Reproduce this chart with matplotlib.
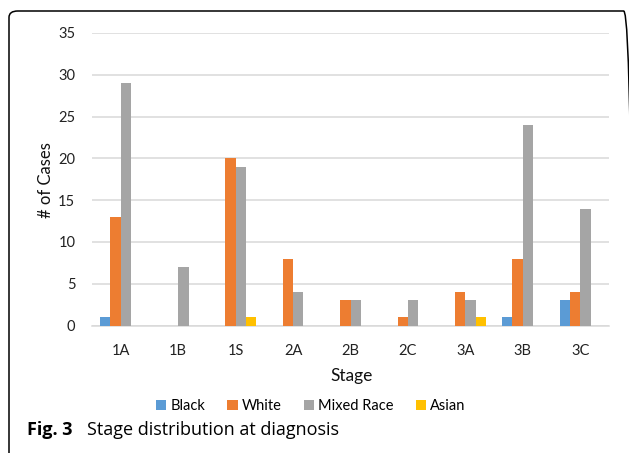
import matplotlib
matplotlib.use("Agg")
import matplotlib.pyplot as plt
from matplotlib.patches import FancyBboxPatch
import numpy as np

# Cases per stage at diagnosis, split by race
stages = ["1A", "1B", "1S", "2A", "2B", "2C", "3A", "3B", "3C"]
black = [1, 0, 0, 0, 0, 0, 0, 1, 3]
white = [13, 0, 20, 8, 3, 1, 4, 8, 4]
mixed_race = [29, 7, 19, 4, 3, 3, 3, 24, 14]
asian = [0, 0, 1, 0, 0, 0, 1, 0, 0]

series = [
    ("Black", black, "#5B9BD5"),
    ("White", white, "#ED7D31"),
    ("Mixed Race", mixed_race, "#A5A5A5"),
    ("Asian", asian, "#FFC000"),
]

W, H = 629, 453
fig = plt.figure(figsize=(W / 100, H / 100), dpi=100)
chart_font = "Lato"
caption_font = "Open Sans"

ax = fig.add_axes([92 / W, (H - 325.5) / H, 517 / W, (325.5 - 33) / H])

x = np.arange(len(stages))
bw = 0.18
for k, (name, vals, col) in enumerate(series):
    ax.bar(x + (k - 1.5) * bw, vals, width=bw, color=col, label=name,
           linewidth=0, zorder=3)

ax.set_xlim(-0.5, len(stages) - 0.5)
ax.set_ylim(0, 35)
ax.set_yticks(range(0, 36, 5))
ax.set_xticks(x)
ax.set_xticklabels(stages)
ax.yaxis.grid(True, color="#D9D9D9", linewidth=1.1, zorder=0)
ax.set_axisbelow(True)
for s in ("top", "right", "left"):
    ax.spines[s].set_visible(False)
ax.spines["bottom"].set_color("#D9D9D9")
ax.spines["bottom"].set_linewidth(1.1)
ax.tick_params(axis="both", length=0, labelsize=10.5, colors="#222222")
ax.tick_params(axis="y", pad=12)
ax.tick_params(axis="x", pad=13)
for lbl in ax.get_xticklabels() + ax.get_yticklabels():
    lbl.set_fontfamily(chart_font)

fig.text(46 / W, (H - 180) / H, "# of Cases", rotation=90, ha="center",
         va="center", fontsize=12, family=chart_font, color="#111111")
fig.text(352 / W, (H - 376) / H, "Stage", ha="center", va="center",
         fontsize=12.5, family=chart_font, color="#111111")

handles, labels = ax.get_legend_handles_labels()
fig.legend(handles, labels, loc="center", bbox_to_anchor=(311 / W, (H - 406) / H),
           ncol=4, frameon=False, handlelength=0.7, handleheight=0.7,
           handletextpad=0.3, columnspacing=1.5,
           prop={"family": chart_font, "size": 10.5})

# caption below the chart
fig.text(27 / W, (H - 435) / H, "Fig. 3", fontsize=13, fontweight="bold",
         family=caption_font, ha="left", va="baseline")
fig.text(87 / W, (H - 435) / H, "Stage distribution at diagnosis",
         fontsize=13, family=caption_font, ha="left", va="baseline")

# rounded frame, open at the bottom, right side just past the edge
frame = FancyBboxPatch((9 / W, -0.2), (632.5 - 9) / W, 0.2 + (H - 11) / H,
                       boxstyle="round,pad=0,rounding_size=0.014",
                       transform=fig.transFigure, facecolor="none",
                       edgecolor="black", linewidth=1.1, clip_on=False)
fig.add_artist(frame)

fig.savefig("out.png", dpi=100)
